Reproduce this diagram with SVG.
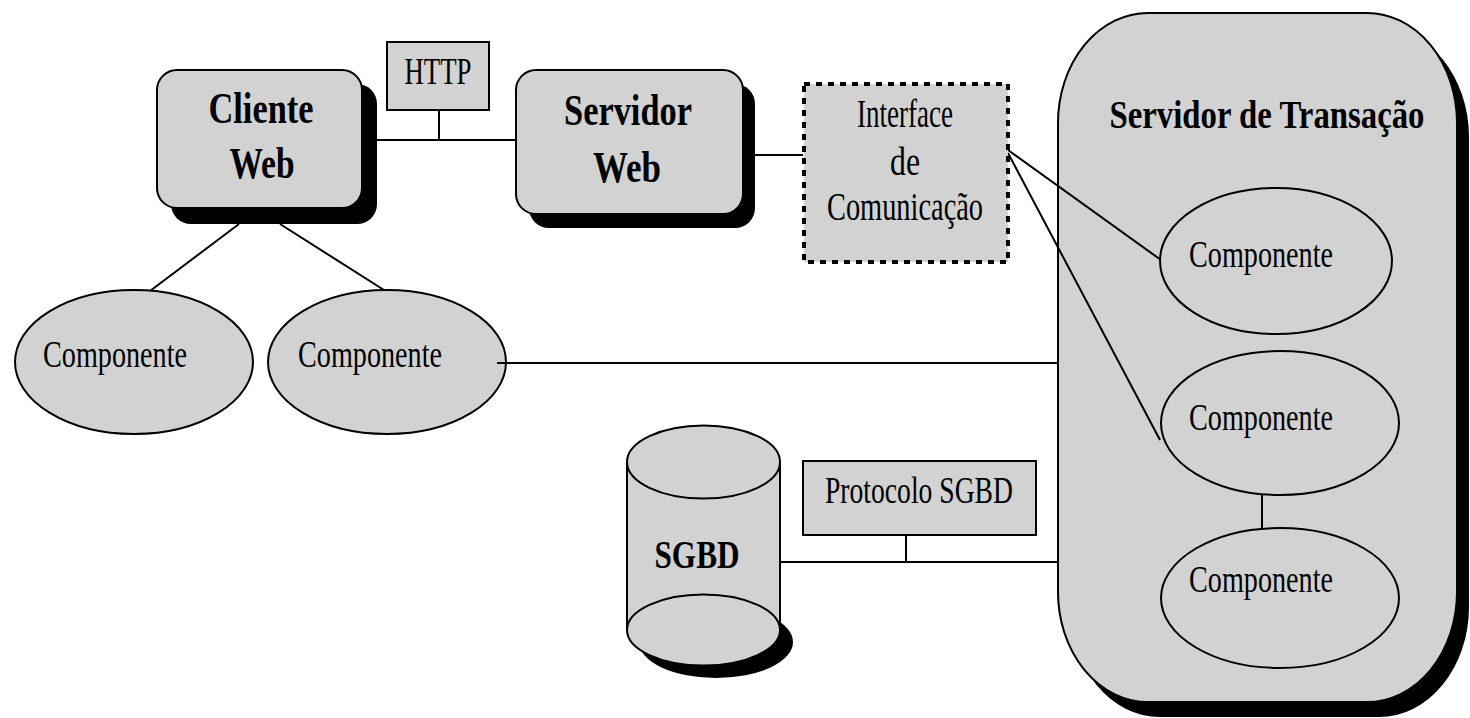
<svg xmlns="http://www.w3.org/2000/svg" width="1470" height="718" viewBox="0 0 1470 718">
<style>
  .box{fill:#d2d2d2;stroke:#000;stroke-width:2}
  .shadow{fill:#000;stroke:none}
  .line{stroke:#000;stroke-width:2;fill:none}
  .dash{fill:#d2d2d2;stroke:#000;stroke-width:4;stroke-dasharray:6 6}
  text{font-family:"Liberation Serif","Times New Roman",serif;fill:#000;text-anchor:middle}
  .b{font-weight:bold;font-size:44px}
  .r{font-size:38px}
</style>
<rect width="1470" height="718" fill="#fff"/>
<g id="servidor-transacao">
  <rect class="shadow" x="1070" y="27" width="399" height="690" rx="90" ry="110"/>
  <rect class="box" x="1058" y="13" width="399" height="689" rx="90" ry="110"/>
  <text class="b" x="1267" y="109.4" transform="scale(1,1.17)" style="font-size:34px" textLength="315" lengthAdjust="spacingAndGlyphs">Servidor de Transação</text>
</g>
<g id="connectors">
  <line class="line" x1="376" y1="140" x2="516" y2="140"/>
  <line class="line" x1="439" y1="106" x2="439" y2="140"/>
  <line class="line" x1="755" y1="155" x2="803" y2="155"/>
  <line class="line" x1="1008" y1="150" x2="1161" y2="260"/>
  <line class="line" x1="1008" y1="153" x2="1160" y2="440"/>
  <line class="line" x1="239" y1="224" x2="150" y2="291"/>
  <line class="line" x1="280" y1="224" x2="395" y2="297"/>
  <line class="line" x1="497" y1="363" x2="1058" y2="363"/>
  <line class="line" x1="780" y1="562" x2="1058" y2="562"/>
  <line class="line" x1="906" y1="530" x2="906" y2="562"/>
  <line class="line" x1="1262" y1="487" x2="1262" y2="528"/>
</g>
<g id="comp-t1">
  <ellipse class="box" cx="1276" cy="261" rx="116" ry="73"/>
  <text class="r" x="1261" y="267" textLength="144" lengthAdjust="spacingAndGlyphs">Componente</text>
</g>
<g id="comp-t2">
  <ellipse class="box" cx="1280" cy="423" rx="119" ry="72"/>
  <text class="r" x="1261" y="430" textLength="144" lengthAdjust="spacingAndGlyphs">Componente</text>
</g>
<g id="comp-t3">
  <ellipse class="box" cx="1280" cy="598" rx="119" ry="70"/>
  <text class="r" x="1261" y="592" textLength="144" lengthAdjust="spacingAndGlyphs">Componente</text>
</g>
<g id="cliente-web">
  <rect class="shadow" x="171" y="84" width="206" height="140" rx="20"/>
  <rect class="box" x="157" y="70" width="205" height="138" rx="20"/>
  <text class="b" x="261" y="123" textLength="105" lengthAdjust="spacingAndGlyphs">Cliente</text>
  <text class="b" x="262" y="178" textLength="65" lengthAdjust="spacingAndGlyphs">Web</text>
</g>
<g id="http">
  <rect class="box" x="387" y="42" width="102" height="68"/>
  <text class="r" x="438" y="84" textLength="67" lengthAdjust="spacingAndGlyphs">HTTP</text>
</g>
<g id="servidor-web">
  <rect class="shadow" x="529" y="84" width="226" height="144" rx="20"/>
  <rect class="box" x="516" y="70" width="227" height="144" rx="20"/>
  <text class="b" x="628" y="125" textLength="128" lengthAdjust="spacingAndGlyphs">Servidor</text>
  <text class="b" x="627" y="182" textLength="68" lengthAdjust="spacingAndGlyphs">Web</text>
</g>
<g id="interface">
  <rect class="dash" x="804" y="84" width="204" height="178"/>
  <text class="r" x="905" y="127" style="font-size:40px" textLength="96" lengthAdjust="spacingAndGlyphs">Interface</text>
  <text class="r" x="905" y="175" style="font-size:40px" textLength="30" lengthAdjust="spacingAndGlyphs">de</text>
  <text class="r" x="905" y="220" style="font-size:40px" textLength="156" lengthAdjust="spacingAndGlyphs">Comunicação</text>
</g>
<g id="comp-c1">
  <ellipse class="box" cx="134" cy="362" rx="119" ry="72"/>
  <text class="r" x="115" y="367" textLength="144" lengthAdjust="spacingAndGlyphs">Componente</text>
</g>
<g id="comp-c2">
  <ellipse class="box" cx="387" cy="362" rx="119" ry="72"/>
  <text class="r" x="370" y="367" textLength="144" lengthAdjust="spacingAndGlyphs">Componente</text>
  <line class="line" x1="497" y1="363" x2="507" y2="363"/>
</g>
<g id="sgbd">
  <ellipse class="shadow" cx="716" cy="642" rx="77" ry="36"/>
  <rect x="627" y="462" width="153" height="168" fill="#d2d2d2"/>
  <line class="line" x1="627" y1="462" x2="627" y2="630"/>
  <line class="line" x1="780" y1="462" x2="780" y2="630"/>
  <ellipse class="box" cx="703.5" cy="630" rx="76.5" ry="35.5"/>
  <ellipse class="box" cx="703.5" cy="462" rx="76.5" ry="36.5"/>
  <text class="b" x="697" y="568" style="font-size:40px" textLength="85" lengthAdjust="spacingAndGlyphs">SGBD</text>
</g>
<g id="protocolo-sgbd">
  <rect class="box" x="803" y="461" width="233" height="74"/>
  <text class="r" x="919" y="503" textLength="188" lengthAdjust="spacingAndGlyphs">Protocolo SGBD</text>
</g>
</svg>
